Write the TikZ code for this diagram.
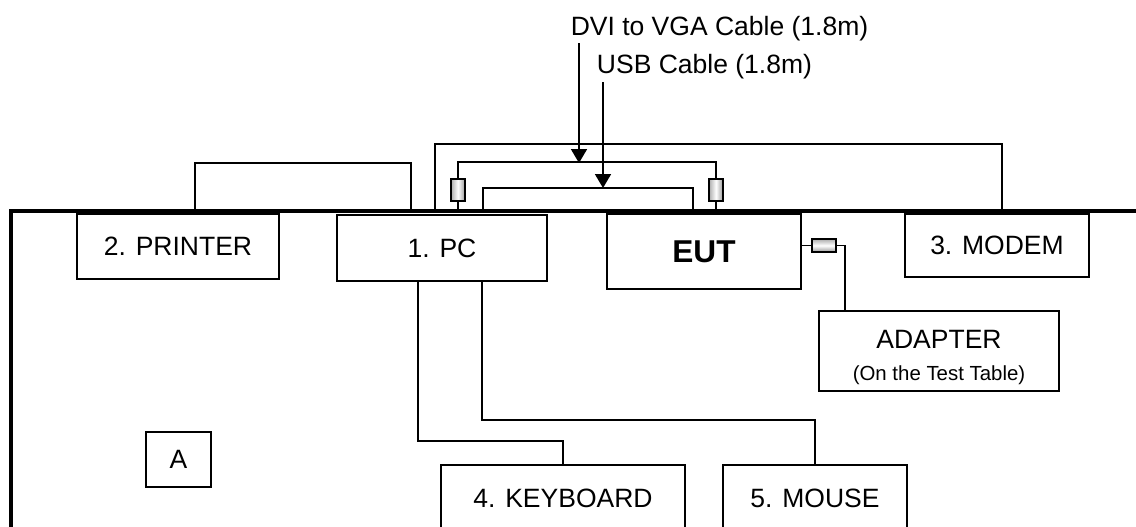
\documentclass[tikz,border=0pt]{standalone}
\usepackage{fontspec}
\setmainfont{Liberation Sans}
\usepackage{tikz}
\usetikzlibrary{arrows.meta, positioning, calc}
\newcommand{\lblfont}{\fontsize{13.25}{15}\selectfont}
\newcommand{\eutfont}{\fontsize{15.8}{18}\selectfont\bfseries}
\newcommand{\notefont}{\fontsize{10.2}{12}\selectfont}

\begin{document}
\begin{tikzpicture}[x=0.5pt, y=-0.5pt,
  box/.style={rectangle, draw, line width=0.9pt, fill=white, inner sep=0pt, align=center, font=\lblfont},
  plugv/.style={rectangle, draw, line width=0.9pt, minimum width=7pt, minimum height=11pt, inner sep=0pt, left color=gray!65, right color=gray!80, middle color=white},
  plugh/.style={rectangle, draw, line width=0.9pt, minimum width=12pt, minimum height=6.5pt, inner sep=0pt, top color=gray!65, bottom color=gray!80, middle color=white},
  cable/.style={line width=0.9pt},
  bench/.style={line width=2.2pt},
  arr/.style={-{Triangle[length=7pt, width=8pt]}, line width=0.9pt}
]
\useasboundingbox (0,0) rectangle (1136,526);
% test table edge
\draw[bench] (11,540) -- (11,211) -- (1150,211);
% equipment
\node[box, minimum width=101pt, minimum height=32.5pt] (prn) at (178,246.5) {2. PRINTER};
\node[box, minimum width=105pt, minimum height=33pt] (pc) at (442,248) {1. PC};
\node[box, minimum width=97pt, minimum height=37.5pt, font=\eutfont] (eut) at (704,251.5) {EUT};
\node[box, minimum width=92pt, minimum height=31.5pt] (mdm) at (997,245.5) {3. MODEM};
\node[box, minimum width=120pt, minimum height=40pt] (adp) at (939,351) {};
\node[font=\lblfont, inner sep=0pt] (adplbl) at (939,339) {ADAPTER};
\node[font=\notefont, inner sep=0pt] (adpnote) at (939,375) {(On the Test Table)};
\node[box, minimum width=32.5pt, minimum height=27.5pt] (a) at (178.5,459.5) {A};
\node[box, minimum width=122pt, minimum height=33pt] (kbd) at (563,498) {4. KEYBOARD};
\node[box, minimum width=92pt, minimum height=33pt] (mouse) at (815,498) {5. MOUSE};
% plugs
\node[plugv] (dvil) at (458,190) {};
\node[plugv] (dvir) at (716,190) {};
\node[plugh] (pwr) at (824,245.5) {};
% cable ends on the table
\coordinate (prnl) at (195,211);
\coordinate (prnr) at (411,211);
\coordinate (mdml) at (435,211);
\coordinate (mdmr) at (1002,211);
\coordinate (dvilb) at (458,211);
\coordinate (dvirb) at (716,211);
\coordinate (usbl) at (483,211);
\coordinate (usbr) at (693,211);
% cables
\draw[cable] (prnl) -- ++(0,-48) -| (prnr);
\draw[cable] (mdml) -- ++(0,-67) -| (mdmr);
\draw[cable] (dvilb) -- (dvil.south);
\draw[cable] (dvil.north) -- ++(0,-16) -| (dvir.north);
\draw[cable] (dvir.south) -- (dvirb);
\draw[cable] (usbl) -- ++(0,-23) -| (usbr);
\draw[cable] ([xshift=41pt]pc.south west) -- ++(0,159) -| (kbd.north);
\draw[cable] ([xshift=73pt]pc.south west) -- ++(0,138) -| (mouse.north);
\draw[cable] ([yshift=3pt]eut.east) -- (pwr.west);
\draw[cable] (pwr.east) -| ([xshift=13.5pt]adp.north west);
% cable labels
\node[font=\lblfont, inner sep=0pt] (dvilbl) at (719.5,28.5) {DVI to VGA Cable (1.8m)};
\node[font=\lblfont, inner sep=0pt] (usblbl) at (704.5,67) {USB Cable (1.8m)};
\coordinate (dvitop) at (579,43);
\coordinate (dvitip) at (579,163);
\coordinate (usbtop) at (603,82);
\coordinate (usbtip) at (603,188);
\draw[arr] (dvitop) -- (dvitip);
\draw[arr] (usbtop) -- (usbtip);
\end{tikzpicture}
\end{document}
